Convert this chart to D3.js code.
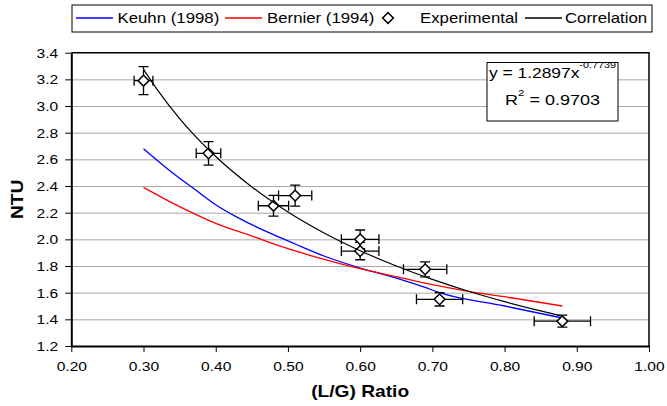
<!DOCTYPE html>
<html lang="en">
<head>
<meta charset="UTF-8">
<title>NTU vs (L/G) Ratio</title>
<style>
    body { margin: 0; background: #fff; }
    svg { display: block; font-family: "Liberation Sans", Arial, sans-serif; }
    .grid line { stroke: #a8a8a8; stroke-width: 1; }
    .grid path { display: none; }
    .axis path, .axis line { stroke: #000; }
    .axis path { stroke-width: 2; }
    .axis text { font-size: 13px; fill: #000; }
</style>
</head>
<body>
<div id="chart"></div>
<script src="https://cdn.jsdelivr.net/npm/d3@7"></script>
<script>
// experimental points
const expX = [0.30, 0.39, 0.48, 0.51, 0.60, 0.60, 0.69, 0.71, 0.88];
const expY = [3.19, 2.645, 2.252, 2.328, 2.00, 1.912, 1.775, 1.55, 1.386];
const expXErr = [0.013, 0.017, 0.021, 0.023, 0.026, 0.026, 0.030, 0.032, 0.039];
const expYErr = [0.105, 0.088, 0.078, 0.079, 0.070, 0.065, 0.056, 0.050, 0.045];

// Keuhn (1998) model curve
const keuhnX = [0.30, 0.34, 0.37, 0.40, 0.43, 0.45, 0.48, 0.51, 0.55, 0.60, 0.65, 0.69, 0.71, 0.80, 0.88];
const keuhnY = [2.68, 2.50, 2.38, 2.26, 2.165, 2.11, 2.035, 1.965, 1.875, 1.785, 1.71, 1.64, 1.60, 1.50, 1.41];

// Bernier (1994) model curve
const bernierX = [0.30, 0.35, 0.40, 0.45, 0.50, 0.55, 0.60, 0.65, 0.70, 0.75, 0.80, 0.88];
const bernierY = [2.39, 2.245, 2.12, 2.025, 1.93, 1.85, 1.78, 1.72, 1.66, 1.61, 1.57, 1.50];

// power-law correlation trendline, y = 1.2897x^-0.7739
const corrX = [0.30, 0.32, 0.35, 0.40, 0.45, 0.50, 0.55, 0.60, 0.65, 0.70, 0.75, 0.80, 0.85, 0.88];
const corrY = [3.275, 3.115, 2.906, 2.621, 2.393, 2.205, 2.048, 1.915, 1.800, 1.700, 1.611, 1.533, 1.463, 1.424];

const xTicks = [0.2, 0.3, 0.4, 0.5, 0.6, 0.7, 0.8, 0.9, 1.0];
const yTicks = [1.2, 1.4, 1.6, 1.8, 2.0, 2.2, 2.4, 2.6, 2.8, 3.0, 3.2, 3.4];

const legendNames = ["Keuhn (1998)", "Bernier (1994)", "Experimental", "Correlation"];
const seriesColors = ["#0000ff", "#ff0000", "#000", "#000"];

const W = 667, H = 406;
const pLeft = 71.3, pRight = 649, pTop = 52.7, pBottom = 346;
const sx = 1.2; // glyphs in the original are stretched sideways

const x = d3.scaleLinear().domain([0.2, 1.0]).range([pLeft, pRight]);
const y = d3.scaleLinear().domain([1.2, 3.4]).range([pBottom, pTop]);

const svg = d3.select("#chart").append("svg")
    .attr("width", W)
    .attr("height", H);

// horizontal gridlines
svg.append("g")
    .attr("class", "grid")
    .attr("transform", `translate(${pLeft},0)`)
    .call(d3.axisLeft(y).tickValues(yTicks.slice(1, -1)).tickSize(-(pRight - pLeft)).tickFormat(""));

// frame top / right
svg.append("path")
    .attr("d", `M${pLeft},${pTop}H${pRight}V${pBottom}`)
    .attr("fill", "none")
    .attr("stroke", "#000")
    .attr("stroke-width", 1.5);

const yAxis = svg.append("g")
    .attr("class", "axis")
    .attr("transform", `translate(${pLeft},0)`)
    .call(d3.axisLeft(y).tickValues(yTicks).tickSize(6).tickSizeOuter(0).tickFormat(d3.format(".1f")));
yAxis.selectAll("text")
    .attr("x", 0).attr("dy", "0.35em")
    .attr("transform", `translate(-13,0) scale(${sx},1)`);

const xAxis = svg.append("g")
    .attr("class", "axis")
    .attr("transform", `translate(0,${pBottom})`)
    .call(d3.axisBottom(x).tickValues(xTicks).tickSize(6).tickSizeOuter(0).tickFormat(d3.format(".2f")));
xAxis.selectAll("text")
    .attr("y", 0).attr("dy", 0)
    .attr("transform", `translate(0,25) scale(${sx},1)`);

// axis titles
svg.append("text")
    .attr("transform", `translate(23,${(pTop + pBottom) / 2}) rotate(-90) scale(${sx},1)`)
    .attr("text-anchor", "middle")
    .attr("font-weight", "bold")
    .attr("font-size", 16)
    .text("NTU");

svg.append("text")
    .attr("transform", `translate(${(pLeft + pRight) / 2},397) scale(${sx},1)`)
    .attr("text-anchor", "middle")
    .attr("font-weight", "bold")
    .attr("font-size", 16)
    .text("(L/G) Ratio");

const line = d3.line()
    .x(d => x(d[0]))
    .y(d => y(d[1]))
    .curve(d3.curveMonotoneX);

svg.append("path")
    .datum(d3.zip(keuhnX, keuhnY))
    .attr("d", line)
    .attr("fill", "none")
    .attr("stroke", seriesColors[0])
    .attr("stroke-width", 1.3);

svg.append("path")
    .datum(d3.zip(bernierX, bernierY))
    .attr("d", line)
    .attr("fill", "none")
    .attr("stroke", seriesColors[1])
    .attr("stroke-width", 1.3);

// error bars
const pts = expX.map((v, i) => ({ x: v, y: expY[i], ex: expXErr[i], ey: expYErr[i] }));
const cap = 5;
const eb = svg.append("g")
    .attr("stroke", "#000")
    .attr("stroke-width", 1.3)
    .attr("fill", "none");
eb.selectAll("path")
    .data(pts)
    .join("path")
    .attr("d", d => {
        const cx = x(d.x), cy = y(d.y);
        const x0 = x(d.x - d.ex), x1 = x(d.x + d.ex);
        const y0 = y(d.y + d.ey), y1 = y(d.y - d.ey);
        return `M${x0},${cy}H${x1}M${x0},${cy - cap}V${cy + cap}M${x1},${cy - cap}V${cy + cap}` +
            `M${cx},${y0}V${y1}M${cx - cap},${y0}H${cx + cap}M${cx - cap},${y1}H${cx + cap}`;
    });

const diamond = d3.symbol(d3.symbolSquare, 58);
svg.append("g")
    .selectAll("path")
    .data(pts)
    .join("path")
    .attr("d", diamond)
    .attr("transform", d => `translate(${x(d.x)},${y(d.y)}) rotate(45)`)
    .attr("fill", "#fff")
    .attr("stroke", "#000")
    .attr("stroke-width", 1.5);

svg.append("path")
    .datum(d3.zip(corrX, corrY))
    .attr("d", line)
    .attr("fill", "none")
    .attr("stroke", "#000")
    .attr("stroke-width", 1.2);

// equation box
const eq = svg.append("g");
eq.append("rect")
    .attr("x", 487).attr("y", 62.5)
    .attr("width", 131).attr("height", 58.5)
    .attr("fill", "#fff")
    .attr("stroke", "#000")
    .attr("stroke-width", 1);
const eq1 = eq.append("text")
    .attr("transform", `translate(552.5,78) scale(${sx},1)`)
    .attr("text-anchor", "middle")
    .attr("font-size", 14.5);
eq1.append("tspan").text("y = 1.2897x");
eq1.append("tspan").attr("font-size", 9).attr("dy", -10).text("-0.7739");
const eq2 = eq.append("text")
    .attr("transform", `translate(552.5,105) scale(${sx},1)`)
    .attr("text-anchor", "middle")
    .attr("font-size", 15);
eq2.append("tspan").text("R");
eq2.append("tspan").attr("font-size", 9.5).attr("dy", -9).text("2");
eq2.append("tspan").attr("dy", 9).text(" = 0.9703");

// legend
const lg = svg.append("g");
lg.append("rect")
    .attr("x", 72).attr("y", 5)
    .attr("width", 580).attr("height", 27)
    .attr("fill", "#fff")
    .attr("stroke", "#000")
    .attr("stroke-width", 1);
const legendLineX = [76, 225, null, 525];
const legendTextX = [117.5, 267, 420, 565];
legendNames.forEach((name, i) => {
    if (legendLineX[i] !== null) {
        lg.append("line")
            .attr("x1", legendLineX[i]).attr("x2", legendLineX[i] + 37)
            .attr("y1", 18).attr("y2", 18)
            .attr("stroke", seriesColors[i])
            .attr("stroke-width", 1.3);
    } else {
        lg.append("path")
            .attr("d", diamond)
            .attr("transform", "translate(388,18) rotate(45)")
            .attr("fill", "#fff")
            .attr("stroke", "#000")
            .attr("stroke-width", 1.5);
    }
    lg.append("text")
        .attr("transform", `translate(${legendTextX[i]},23) scale(${sx},1)`)
        .attr("font-size", 14)
        .text(name);
});
</script>
</body>
</html>
